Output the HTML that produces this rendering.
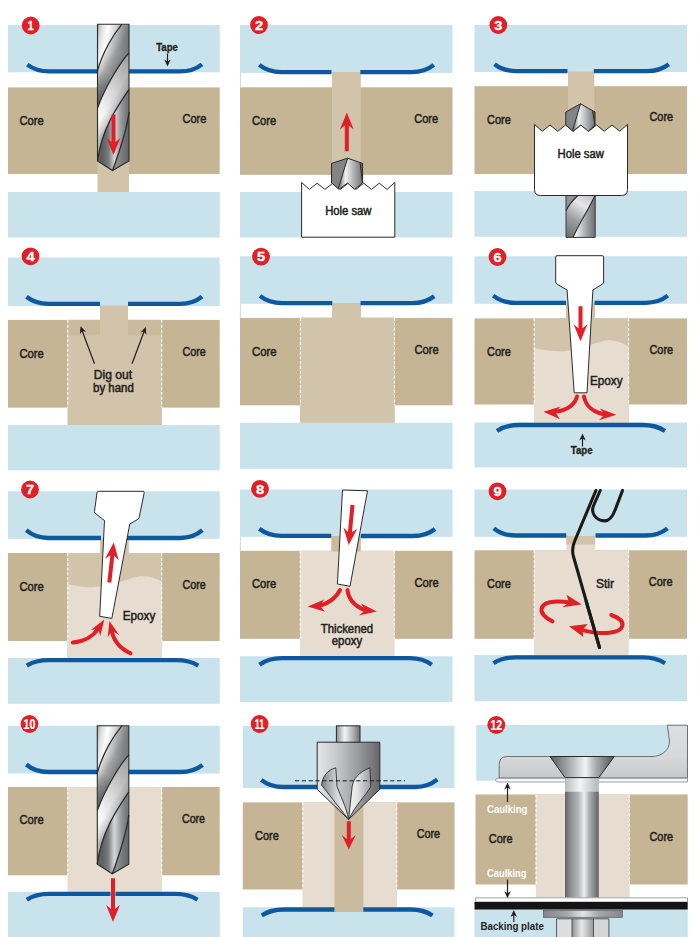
<!DOCTYPE html>
<html lang="en"><head><meta charset="utf-8"><title>Sealing deck core: 12 steps</title>
<style>html,body{margin:0;padding:0;background:#fff}svg{display:block;font-family:"Liberation Sans", sans-serif}</style></head>
<body><svg width="700" height="937" viewBox="0 0 700 937">
<rect width="700" height="937" fill="#fff"/>
<defs>
<linearGradient id="gDrill" x1="0" x2="1" y1="0" y2="0">
<stop offset="0" stop-color="#8d8e90"/><stop offset="0.1" stop-color="#d4d5d6"/><stop offset="0.3" stop-color="#ffffff"/>
<stop offset="0.5" stop-color="#c4c5c7"/><stop offset="0.75" stop-color="#8b8c8e"/><stop offset="1" stop-color="#68696b"/>
</linearGradient>
<linearGradient id="gBand" gradientUnits="objectBoundingBox" x1="0.2" y1="0.1" x2="0.8" y2="0.7">
<stop offset="0" stop-color="#fff" stop-opacity="0.55"/><stop offset="0.45" stop-color="#fff" stop-opacity="0"/>
<stop offset="1" stop-color="#000" stop-opacity="0.28"/>
</linearGradient>
<linearGradient id="gB0" gradientUnits="userSpaceOnUse" x1="0" y1="0" x2="24" y2="4">
<stop offset="0" stop-color="#9fa0a2"/><stop offset="0.18" stop-color="#dcdcdd"/><stop offset="0.45" stop-color="#ffffff"/><stop offset="0.75" stop-color="#d6d7d8"/><stop offset="1" stop-color="#a6a7a9"/></linearGradient>
<linearGradient id="gB1" gradientUnits="userSpaceOnUse" x1="10" y1="21" x2="26" y2="30.2">
<stop offset="0" stop-color="#f6f6f6"/><stop offset="0.3" stop-color="#cdcdce"/><stop offset="0.6" stop-color="#a3a4a6"/><stop offset="1" stop-color="#88898b"/></linearGradient>
<linearGradient id="gB1o" gradientUnits="userSpaceOnUse" x1="29" y1="3" x2="1" y2="80">
<stop offset="0" stop-color="#000" stop-opacity="0.3"/><stop offset="0.35" stop-color="#000" stop-opacity="0.04"/><stop offset="0.6" stop-color="#000" stop-opacity="0"/><stop offset="1" stop-color="#000" stop-opacity="0.32"/></linearGradient>
<linearGradient id="gB2" gradientUnits="userSpaceOnUse" x1="16" y1="55" x2="32" y2="64.3">
<stop offset="0" stop-color="#ffffff"/><stop offset="0.5" stop-color="#f4f4f4"/><stop offset="0.85" stop-color="#d0d0d1"/><stop offset="1" stop-color="#b4b5b7"/></linearGradient>
<linearGradient id="gB2o" gradientUnits="userSpaceOnUse" x1="31" y1="35" x2="0" y2="130">
<stop offset="0" stop-color="#000" stop-opacity="0.36"/><stop offset="0.35" stop-color="#000" stop-opacity="0.14"/><stop offset="0.6" stop-color="#000" stop-opacity="0"/><stop offset="1" stop-color="#000" stop-opacity="0"/></linearGradient>
<linearGradient id="gB3" gradientUnits="userSpaceOnUse" x1="5" y1="0" x2="29" y2="0">
<stop offset="0" stop-color="#5f6062"/><stop offset="0.25" stop-color="#7a7b7d"/><stop offset="0.5" stop-color="#d6d7d8"/><stop offset="0.78" stop-color="#98999b"/><stop offset="1" stop-color="#77787a"/></linearGradient>
<linearGradient id="gB4" gradientUnits="userSpaceOnUse" x1="20" y1="0" x2="31.5" y2="0">
<stop offset="0" stop-color="#8a8b8d"/><stop offset="1" stop-color="#636466"/></linearGradient>
<linearGradient id="gP3m" gradientUnits="userSpaceOnUse" x1="566" y1="237" x2="592" y2="197">
<stop offset="0" stop-color="#6d6e70"/><stop offset="0.4" stop-color="#9d9ea0"/><stop offset="0.75" stop-color="#e6e6e7"/><stop offset="1" stop-color="#c4c5c7"/></linearGradient>
<linearGradient id="gP3r" gradientUnits="userSpaceOnUse" x1="576" y1="0" x2="595" y2="0">
<stop offset="0" stop-color="#f2f2f2"/><stop offset="0.5" stop-color="#a9aaac"/><stop offset="1" stop-color="#6e6f71"/></linearGradient>
<linearGradient id="gTip" x1="0" x2="1" y1="0" y2="0">
<stop offset="0" stop-color="#8a8b8d"/><stop offset="0.28" stop-color="#8a8b8d"/><stop offset="0.45" stop-color="#f0f0f0"/><stop offset="0.7" stop-color="#b4b5b7"/><stop offset="1" stop-color="#707173"/></linearGradient>
<linearGradient id="gWasher" x1="0" x2="1" y1="0" y2="0">
<stop offset="0" stop-color="#85878a"/><stop offset="0.3" stop-color="#a5a7aa"/><stop offset="0.5" stop-color="#e4e5e6"/><stop offset="0.7" stop-color="#a5a7aa"/><stop offset="1" stop-color="#85878a"/></linearGradient>
<linearGradient id="gNutM" x1="0" x2="1" y1="0" y2="0">
<stop offset="0" stop-color="#8f9194"/><stop offset="0.45" stop-color="#e9e9ea"/><stop offset="1" stop-color="#97999c"/></linearGradient>
<linearGradient id="gFlute2" x1="0" x2="1" y1="0" y2="0">
<stop offset="0" stop-color="#f8f8f8"/><stop offset="0.4" stop-color="#e2e2e3"/><stop offset="1" stop-color="#9c9d9f"/></linearGradient>
<linearGradient id="gFit" gradientUnits="userSpaceOnUse" x1="0" y1="725" x2="0" y2="778">
<stop offset="0" stop-color="#dcdee0"/><stop offset="0.6" stop-color="#d6d8da"/><stop offset="1" stop-color="#c6c8ca"/></linearGradient>
<clipPath id="cDrill"><path d="M0,0 L31.5,0 L31.5,136.8 L15,146.3 L0,136.8 Z"/></clipPath>
<linearGradient id="gShank" x1="0" x2="1" y1="0" y2="0">
<stop offset="0" stop-color="#8d8e90"/><stop offset="0.35" stop-color="#f4f4f4"/><stop offset="0.6" stop-color="#c4c5c7"/><stop offset="1" stop-color="#707173"/>
</linearGradient>
<linearGradient id="gBody" x1="0" x2="1" y1="0" y2="0">
<stop offset="0" stop-color="#e4e5e6"/><stop offset="0.3" stop-color="#c9cacc"/><stop offset="0.65" stop-color="#9a9b9d"/><stop offset="1" stop-color="#66676a"/>
</linearGradient>
<linearGradient id="gFlute" x1="0" x2="1" y1="0" y2="0">
<stop offset="0" stop-color="#808183"/><stop offset="0.6" stop-color="#d9dadb"/><stop offset="1" stop-color="#f5f5f5"/>
</linearGradient>
<linearGradient id="gScrew" x1="0" x2="1" y1="0" y2="0">
<stop offset="0" stop-color="#626467"/><stop offset="0.15" stop-color="#8a8c8f"/><stop offset="0.4" stop-color="#b4b6b8"/><stop offset="0.57" stop-color="#eeeeef"/><stop offset="0.7" stop-color="#b2b4b6"/><stop offset="0.86" stop-color="#86888b"/><stop offset="1" stop-color="#626467"/>
</linearGradient>
<linearGradient id="gScrewL" x1="0" x2="1" y1="0" y2="0">
<stop offset="0" stop-color="#b9bbbd"/><stop offset="0.45" stop-color="#f4f4f5"/><stop offset="1" stop-color="#b4b6b8"/>
</linearGradient>
<linearGradient id="gHead" x1="0" x2="1" y1="0" y2="0">
<stop offset="0" stop-color="#5a5b5e"/><stop offset="0.3" stop-color="#a9abad"/><stop offset="0.55" stop-color="#f2f2f3"/><stop offset="0.7" stop-color="#aeb0b2"/><stop offset="1" stop-color="#505154"/>
</linearGradient>
</defs>
<rect x="8.00" y="25.00" width="211.70" height="47.30" fill="#c9e3ed" />
<rect x="8.00" y="87.40" width="211.70" height="86.60" fill="#c5b594" />
<rect x="8.00" y="192.00" width="211.70" height="45.50" fill="#c9e3ed" />
<rect x="97.50" y="160.00" width="31.50" height="32.00" fill="#d2c4aa" />
<path d="M27.30,64.60 C33.30,69.22 40.30,71.40 49.30,71.40 L100.00,71.40" fill="none" stroke="#0e58a0" stroke-width="4.3"/>
<path d="M202.00,64.30 C196.00,69.13 189.00,71.40 180.00,71.40 L127.00,71.40" fill="none" stroke="#0e58a0" stroke-width="4.3"/>
<g transform="translate(97.50,24.20) scale(1,1.0000)">
<g clip-path="url(#cDrill)">
<path d="M0,0 L24.5,0 C16,10 5,28 0,46.8 Z" fill="url(#gB0)"/>
<path d="M24.5,0 C16,10 5,28 0,46.8 L0,83.8 C8,62 24,36 31.5,28.8 L31.5,0 Z" fill="url(#gB1)"/>
<path d="M24.5,0 C16,10 5,28 0,46.8 L0,83.8 C8,62 24,36 31.5,28.8 L31.5,0 Z" fill="url(#gB1o)"/>
<path d="M31.5,28.8 C24,36 8,62 0,83.8 L0,136.8 C4,105 20,82 31.5,65.3 Z" fill="url(#gB2)"/>
<path d="M31.5,28.8 C24,36 8,62 0,83.8 L0,136.8 C4,105 20,82 31.5,65.3 Z" fill="url(#gB2o)"/>
<path d="M31.5,65.3 C20,82 4,105 0,136.8 L15,146.3 C24,122 30,100 31.5,88 Z" fill="url(#gB3)"/>
<path d="M31.5,88 C30,100 24,122 15,146.3 L31.5,136.8 Z" fill="url(#gB4)"/>
</g>
<path d="M24.5,0 C16,10 5,28 0,46.8" fill="none" stroke="#2b2b2b" stroke-width="1.25"/>
<path d="M31.5,28.8 C24,36 8,62 0,83.8" fill="none" stroke="#2b2b2b" stroke-width="1.25"/>
<path d="M31.5,65.3 C20,82 4,105 0,136.8" fill="none" stroke="#2b2b2b" stroke-width="1.25"/>
<path d="M31.5,88 C30,100 24,122 15,146.3" fill="none" stroke="#2b2b2b" stroke-width="1.25"/>
<path d="M0,0 L31.5,0 L31.5,136.8 L15,146.3 L0,136.8 Z" fill="none" stroke="#2b2b2b" stroke-width="1.1"/>
</g>
<path d="M111.50,114.50 L115.50,114.50 L115.50,142.00 L120.40,138.00 L113.50,155.00 L106.60,138.00 L111.50,142.00 Z" fill="#e11f26"/>
<circle cx="30.70" cy="25.50" r="8.9" fill="#e11f26"/>
<text x="27.60" y="30.20" font-size="13.5" font-weight="bold" fill="#fff" stroke="#fff" stroke-width="0.3" textLength="6.2" lengthAdjust="spacingAndGlyphs">1</text>
<text x="19.50" y="125.00" font-size="12" font-weight="normal" fill="#231f20" text-anchor="start" textLength="24.20" lengthAdjust="spacingAndGlyphs" stroke="#231f20" stroke-width="0.5">Core</text>
<text x="182.50" y="122.50" font-size="12" font-weight="normal" fill="#231f20" text-anchor="start" textLength="23.80" lengthAdjust="spacingAndGlyphs" stroke="#231f20" stroke-width="0.5">Core</text>
<text x="156.20" y="50.80" font-size="10" font-weight="bold" fill="#231f20" text-anchor="start" textLength="21.80" lengthAdjust="spacingAndGlyphs" stroke="#231f20" stroke-width="0.3">Tape</text>
<line x1="167.50" y1="53.50" x2="167.50" y2="62.00" stroke="#231f20" stroke-width="1.2"/>
<path d="M167.50,66.50 L164.30,59.50 L167.50,61.50 L170.70,59.50 Z" fill="#231f20"/>
<rect x="240.00" y="25.00" width="212.50" height="48.00" fill="#c9e3ed" />
<rect x="240.00" y="87.30" width="212.50" height="87.50" fill="#c5b594" />
<rect x="240.00" y="192.00" width="212.50" height="45.50" fill="#c9e3ed" />
<rect x="332.00" y="72.00" width="28.80" height="103.00" fill="#d2c4aa" />
<path d="M259.30,64.90 C265.30,69.80 272.30,72.10 281.30,72.10 L331.50,72.10" fill="none" stroke="#0e58a0" stroke-width="4.3"/>
<path d="M433.80,64.90 C427.80,69.80 420.80,72.10 411.80,72.10 L360.30,72.10" fill="none" stroke="#0e58a0" stroke-width="4.3"/>
<path d="M344.80,151.30 L348.80,151.30 L348.80,125.50 L353.70,129.50 L346.80,112.50 L339.90,129.50 L344.80,125.50 Z" fill="#e11f26"/>
<path d="M301.6,237.2 L301.6,182.5 L309.37,189.4 L317.13,183.2 L324.90,189.4 L332.67,183.2 L340.43,189.4 L348.20,183.2 L355.97,189.4 L363.73,183.2 L371.50,189.4 L379.27,183.2 L387.03,189.4 L394.80,182.5 L394.8,237.2 Z" fill="#fff" stroke="#2b2b2b" stroke-width="1" stroke-linejoin="miter"/>
<path d="M331.5,183 L331.5,163.4 L347.6,158.2 L362.6,163.4 L362.6,183 L354.7,189.3 L347.6,183 L339,189.3 Z" fill="url(#gTip)"/>
<path d="M331.5,183 L331.5,163.4 L347.6,158.2 L338.3,188.5 Z" fill="#838486"/>
<path d="M360,162.6 L362.6,163.4 L362.6,183 Z" fill="#66676a"/>
<path d="M331.5,183 L331.5,163.4 L347.6,158.2 L362.6,163.4 L362.6,183 L354.7,189.3 L347.6,183 L339,189.3 Z M347.6,158.2 L338.3,188.5 M360,162.6 L362.6,183" fill="none" stroke="#2b2b2b" stroke-width="1"/>
<text x="325.20" y="214.80" font-size="12" font-weight="normal" fill="#231f20" text-anchor="start" textLength="46.30" lengthAdjust="spacingAndGlyphs" stroke="#231f20" stroke-width="0.5">Hole saw</text>
<circle cx="259.00" cy="25.00" r="8.9" fill="#e11f26"/>
<text x="254.90" y="29.70" font-size="13.5" font-weight="bold" fill="#fff" stroke="#fff" stroke-width="0.3" textLength="8.2" lengthAdjust="spacingAndGlyphs">2</text>
<text x="252.00" y="125.00" font-size="12" font-weight="normal" fill="#231f20" text-anchor="start" textLength="24.20" lengthAdjust="spacingAndGlyphs" stroke="#231f20" stroke-width="0.5">Core</text>
<text x="414.30" y="122.50" font-size="12" font-weight="normal" fill="#231f20" text-anchor="start" textLength="23.80" lengthAdjust="spacingAndGlyphs" stroke="#231f20" stroke-width="0.5">Core</text>
<path d="M240.4,72.5 L240.4,87.3 M240.4,303.8 L240.4,317.6 M240.4,536.8 L240.4,550.8" stroke="#d8d1c6" stroke-width="0.9" fill="none"/>
<rect x="474.50" y="25.00" width="212.50" height="47.00" fill="#c9e3ed" />
<rect x="474.50" y="86.20" width="212.50" height="87.80" fill="#c5b594" />
<rect x="474.50" y="191.00" width="212.50" height="45.80" fill="#c9e3ed" />
<rect x="568.00" y="71.50" width="26.30" height="53.50" fill="#d2c4aa" />
<path d="M494.50,64.20 C500.50,68.89 507.50,71.10 516.50,71.10 L567.50,71.10" fill="none" stroke="#0e58a0" stroke-width="4.3"/>
<path d="M668.80,64.20 C662.80,68.89 655.80,71.10 646.80,71.10 L593.80,71.10" fill="none" stroke="#0e58a0" stroke-width="4.3"/>
<path d="M566,190 L578.4,190 L578.4,195 C573,200 568,206 566,211 Z" fill="#929395"/>
<path d="M578.4,190 L595.2,190 L595.2,195 C590,207 580,222 573,237.4 L566,237.4 L566,211 C568,206 573,200 578.4,195 Z" fill="url(#gP3m)"/>
<path d="M595.2,195 C590,207 580,222 573,237.4 L595.2,237.4 Z" fill="url(#gP3r)"/>
<path d="M578.4,195 C573,200 568,206 566,211 M595.2,195 C590,207 580,222 573,237.4" fill="none" stroke="#2b2b2b" stroke-width="1.1"/>
<path d="M566,190 L566,237.4 L595.2,237.4 L595.2,190" fill="none" stroke="#3a3a3a" stroke-width="1"/>
<path d="M534.5,189.5 L534.5,124.3 L542.25,131.3 L550.00,125 L557.75,131.3 L565.50,125 L573.25,131.3 L581.00,125 L588.75,131.3 L596.50,125 L604.25,131.3 L612.00,125 L619.75,131.3 L627.50,124.3 L627.5,189.5 Q627.5,195.5 621.5,195.5 L540.5,195.5 Q534.5,195.5 534.5,189.5 Z" fill="#fff" stroke="#2b2b2b" stroke-width="1"/>
<path d="M565.8,125 L565.8,112 L580.5,103.8 L595,112 L595,125 L588.3,131.3 L580.8,125 L573,131.3 Z" fill="url(#gTip)"/>
<path d="M565.8,125 L565.8,112 L580.5,103.8 L572.5,130.8 Z" fill="#838486"/>
<path d="M592.5,110.6 L595,112 L595,125 Z" fill="#66676a"/>
<path d="M565.8,125 L565.8,112 L580.5,103.8 L595,112 L595,125 L588.3,131.3 L580.8,125 L573,131.3 Z M580.5,103.8 L572.5,130.8 M592.5,110.6 L595,125" fill="none" stroke="#2b2b2b" stroke-width="1"/>
<text x="557.50" y="158.00" font-size="12" font-weight="normal" fill="#231f20" text-anchor="start" textLength="46.30" lengthAdjust="spacingAndGlyphs" stroke="#231f20" stroke-width="0.5">Hole saw</text>
<circle cx="498.30" cy="25.00" r="8.9" fill="#e11f26"/>
<text x="494.20" y="29.70" font-size="13.5" font-weight="bold" fill="#fff" stroke="#fff" stroke-width="0.3" textLength="8.2" lengthAdjust="spacingAndGlyphs">3</text>
<text x="487.00" y="123.80" font-size="12" font-weight="normal" fill="#231f20" text-anchor="start" textLength="23.80" lengthAdjust="spacingAndGlyphs" stroke="#231f20" stroke-width="0.5">Core</text>
<text x="649.50" y="121.30" font-size="12" font-weight="normal" fill="#231f20" text-anchor="start" textLength="23.60" lengthAdjust="spacingAndGlyphs" stroke="#231f20" stroke-width="0.5">Core</text>
<rect x="8.00" y="257.50" width="211.70" height="48.50" fill="#c9e3ed" />
<rect x="8.00" y="319.90" width="211.70" height="87.70" fill="#c5b594" />
<rect x="8.00" y="425.00" width="211.70" height="45.30" fill="#c9e3ed" />
<rect x="67.50" y="319.90" width="94.50" height="105.10" fill="#d2c4aa" />
<rect x="67.50" y="319.90" width="32.50" height="15.60" fill="#cbbb9e" />
<rect x="128.00" y="319.90" width="34.00" height="15.60" fill="#cbbb9e" />
<rect x="100.00" y="305.50" width="28.00" height="30.50" fill="#d2c4aa" />
<line x1="67.80" y1="319.90" x2="67.80" y2="407.60" stroke="#fff" stroke-width="1" stroke-dasharray="3.2 1.6"/>
<line x1="161.70" y1="319.90" x2="161.70" y2="407.60" stroke="#fff" stroke-width="1" stroke-dasharray="3.2 1.6"/>
<path d="M26.50,296.80 C32.50,301.56 39.50,303.80 48.50,303.80 L100.00,303.80" fill="none" stroke="#0e58a0" stroke-width="4.3"/>
<path d="M202.00,296.60 C196.00,301.50 189.00,303.80 180.00,303.80 L128.00,303.80" fill="none" stroke="#0e58a0" stroke-width="4.3"/>
<line x1="94.50" y1="363.80" x2="82.07" y2="330.52" stroke="#231f20" stroke-width="1.2"/>
<path d="M80.50,326.30 L85.95,331.74 L82.25,330.98 L79.95,333.98 Z" fill="#231f20"/>
<line x1="132.00" y1="363.80" x2="144.22" y2="331.21" stroke="#231f20" stroke-width="1.2"/>
<path d="M145.80,327.00 L146.34,334.68 L144.04,331.68 L140.35,332.43 Z" fill="#231f20"/>
<text x="93.80" y="379.30" font-size="12" font-weight="normal" fill="#231f20" text-anchor="start" textLength="38.20" lengthAdjust="spacingAndGlyphs" stroke="#231f20" stroke-width="0.5">Dig out</text>
<text x="93.00" y="392.00" font-size="12" font-weight="normal" fill="#231f20" text-anchor="start" textLength="40.80" lengthAdjust="spacingAndGlyphs" stroke="#231f20" stroke-width="0.5">by hand</text>
<circle cx="30.50" cy="256.30" r="8.9" fill="#e11f26"/>
<text x="26.40" y="261.00" font-size="13.5" font-weight="bold" fill="#fff" stroke="#fff" stroke-width="0.3" textLength="8.2" lengthAdjust="spacingAndGlyphs">4</text>
<text x="19.50" y="357.50" font-size="12" font-weight="normal" fill="#231f20" text-anchor="start" textLength="24.20" lengthAdjust="spacingAndGlyphs" stroke="#231f20" stroke-width="0.5">Core</text>
<text x="182.50" y="355.50" font-size="12" font-weight="normal" fill="#231f20" text-anchor="start" textLength="23.30" lengthAdjust="spacingAndGlyphs" stroke="#231f20" stroke-width="0.5">Core</text>
<rect x="240.00" y="256.30" width="212.50" height="47.50" fill="#c9e3ed" />
<rect x="240.00" y="317.90" width="212.50" height="87.40" fill="#c5b594" />
<rect x="240.00" y="422.80" width="212.50" height="46.00" fill="#c9e3ed" />
<rect x="300.00" y="317.60" width="94.80" height="105.20" fill="#d2c4aa" />
<rect x="332.00" y="303.00" width="29.00" height="15.50" fill="#d2c4aa" />
<line x1="300.40" y1="317.90" x2="300.40" y2="405.30" stroke="#fff" stroke-width="1" stroke-dasharray="3.2 1.6"/>
<line x1="394.40" y1="317.90" x2="394.40" y2="405.30" stroke="#fff" stroke-width="1" stroke-dasharray="3.2 1.6"/>
<path d="M260.00,295.90 C266.00,300.80 273.00,303.10 282.00,303.10 L332.30,303.10" fill="none" stroke="#0e58a0" stroke-width="4.3"/>
<path d="M434.20,296.20 C428.20,300.89 421.20,303.10 412.20,303.10 L360.50,303.10" fill="none" stroke="#0e58a0" stroke-width="4.3"/>
<circle cx="261.00" cy="256.60" r="8.9" fill="#e11f26"/>
<text x="256.90" y="261.30" font-size="13.5" font-weight="bold" fill="#fff" stroke="#fff" stroke-width="0.3" textLength="8.2" lengthAdjust="spacingAndGlyphs">5</text>
<text x="252.00" y="355.50" font-size="12" font-weight="normal" fill="#231f20" text-anchor="start" textLength="24.70" lengthAdjust="spacingAndGlyphs" stroke="#231f20" stroke-width="0.5">Core</text>
<text x="414.50" y="353.80" font-size="12" font-weight="normal" fill="#231f20" text-anchor="start" textLength="24.20" lengthAdjust="spacingAndGlyphs" stroke="#231f20" stroke-width="0.5">Core</text>
<rect x="474.50" y="256.30" width="212.50" height="47.50" fill="#c9e3ed" />
<rect x="474.50" y="318.40" width="212.50" height="86.10" fill="#c5b594" />
<rect x="474.50" y="422.50" width="212.50" height="45.00" fill="#c9e3ed" />
<rect x="534.00" y="318.40" width="94.80" height="104.10" fill="#d2c4aa" />
<rect x="565.80" y="303.00" width="29.20" height="16.00" fill="#d2c4aa" />
<path d="M534,348 C545,350.5 556,352 566,351 C580,349 592,344 603,341 C612,338.8 620,341 628.8,346.5 L628.8,422.5 L534,422.5 Z" fill="#e6ddd0"/>
<line x1="534.20" y1="318.40" x2="534.20" y2="404.50" stroke="#fff" stroke-width="1" stroke-dasharray="3.2 1.6"/>
<line x1="628.60" y1="318.40" x2="628.60" y2="404.50" stroke="#fff" stroke-width="1" stroke-dasharray="3.2 1.6"/>
<path d="M493.20,295.70 C499.20,300.53 506.20,302.80 515.20,302.80 L566.00,302.80" fill="none" stroke="#0e58a0" stroke-width="4.3"/>
<path d="M667.80,295.70 C661.80,300.53 654.80,302.80 645.80,302.80 L594.50,302.80" fill="none" stroke="#0e58a0" stroke-width="4.3"/>
<path d="M497.00,431.00 C503.00,426.92 510.00,425.00 519.00,425.00 L643.00,425.00 C652.00,425.00 659.00,426.92 665.00,431.00" fill="none" stroke="#0e58a0" stroke-width="4.3"/>
<path d="M557,255.7 L602.3,255.7 Q603.6,255.7 603.6,257 L603.6,282 Q603.6,283.6 602,284.3 L592.9,290 L587,392.8 L574.2,392.8 L567.1,290 L557.3,284.3 Q555.7,283.6 555.7,282 L555.7,257 Q555.7,255.7 557,255.7 Z" fill="#fff" stroke="#2b2b2b" stroke-width="1" stroke-linejoin="round"/>
<path d="M578.50,306.30 L582.50,306.30 L582.50,328.30 L587.40,324.30 L580.50,341.30 L573.60,324.30 L578.50,328.30 Z" fill="#e11f26"/>
<path d="M577,396.5 C575,404.5 567,410.5 556,411.6" fill="none" stroke="#e11f26" stroke-width="4" stroke-linecap="round"/>
<path d="M543.5,411.8 L560.8,406.6 L555,411.8 L560,419.3 Z" fill="#e11f26"/>
<path d="M584,396.5 C585.5,405.5 593,412 604,414.2" fill="none" stroke="#e11f26" stroke-width="4" stroke-linecap="round"/>
<path d="M616.3,414.8 L599.8,408.6 L604.8,414.3 L599,420.2 Z" fill="#e11f26"/>
<text x="590.00" y="385.00" font-size="12" font-weight="normal" fill="#231f20" text-anchor="start" textLength="32.50" lengthAdjust="spacingAndGlyphs" stroke="#231f20" stroke-width="0.5">Epoxy</text>
<text x="570.80" y="454.30" font-size="10" font-weight="bold" fill="#231f20" text-anchor="start" textLength="21.80" lengthAdjust="spacingAndGlyphs" stroke="#231f20" stroke-width="0.3">Tape</text>
<line x1="582.50" y1="446.50" x2="582.50" y2="438.00" stroke="#231f20" stroke-width="1.2"/>
<path d="M582.50,433.50 L585.70,440.50 L582.50,438.50 L579.30,440.50 Z" fill="#231f20"/>
<circle cx="497.50" cy="257.00" r="8.9" fill="#e11f26"/>
<text x="493.40" y="261.70" font-size="13.5" font-weight="bold" fill="#fff" stroke="#fff" stroke-width="0.3" textLength="8.2" lengthAdjust="spacingAndGlyphs">6</text>
<text x="487.00" y="355.50" font-size="12" font-weight="normal" fill="#231f20" text-anchor="start" textLength="23.80" lengthAdjust="spacingAndGlyphs" stroke="#231f20" stroke-width="0.5">Core</text>
<text x="649.50" y="353.80" font-size="12" font-weight="normal" fill="#231f20" text-anchor="start" textLength="23.60" lengthAdjust="spacingAndGlyphs" stroke="#231f20" stroke-width="0.5">Core</text>
<rect x="8.00" y="491.30" width="211.70" height="47.50" fill="#c9e3ed" />
<rect x="8.00" y="553.00" width="211.70" height="88.00" fill="#c5b594" />
<rect x="8.00" y="658.00" width="211.70" height="45.80" fill="#c9e3ed" />
<rect x="67.50" y="553.00" width="94.50" height="105.00" fill="#d2c4aa" />
<rect x="100.00" y="538.00" width="28.80" height="16.00" fill="#d2c4aa" />
<path d="M67.5,584.3 C76,586 84,587.6 92,587.2 C106,586 120,582.5 132,578 C142,574.8 152,576 162,581.5 L162,658 L67.5,658 Z" fill="#e6ddd0"/>
<line x1="67.80" y1="553.00" x2="67.80" y2="641.00" stroke="#fff" stroke-width="1" stroke-dasharray="3.2 1.6"/>
<line x1="161.70" y1="553.00" x2="161.70" y2="641.00" stroke="#fff" stroke-width="1" stroke-dasharray="3.2 1.6"/>
<path d="M26.30,530.20 C32.30,535.50 39.30,538.00 48.30,538.00 L101.00,538.00" fill="none" stroke="#0e58a0" stroke-width="4.3"/>
<path d="M202.30,530.20 C196.30,535.50 189.30,538.00 180.30,538.00 L127.00,538.00" fill="none" stroke="#0e58a0" stroke-width="4.3"/>
<path d="M26.80,665.60 C32.80,661.93 39.80,660.20 48.80,660.20 L176.20,660.20 C185.20,660.20 192.20,661.93 198.20,665.60" fill="none" stroke="#0e58a0" stroke-width="4.3"/>
<path d="M98.3,491.3 L143,491.3 Q144.3,491.3 144.2,492.6 L139.2,517.5 Q139,518.8 137.5,519.5 L129.8,524 L111.8,618.5 L99.7,616.3 L104.5,520.5 L95.8,513.8 Q94.3,512.8 94.5,511.3 L97,492.6 Q97.1,491.3 98.3,491.3 Z" fill="#fff" stroke="#2b2b2b" stroke-width="1" stroke-linejoin="round"/>
<g transform="rotate(6.4 109.3 582.5)">
<path d="M107.30,582.50 L111.30,582.50 L111.30,555.30 L116.20,559.30 L109.30,542.30 L102.40,559.30 L107.30,555.30 Z" fill="#e11f26"/>
</g>
<path d="M72.8,642.5 C84,641.5 93.5,636 98.3,628.5" fill="none" stroke="#e11f26" stroke-width="4" stroke-linecap="round"/>
<path d="M104.3,619.5 L90.8,630 L98.3,628.7 L100.2,636.2 Z" fill="#e11f26"/>
<path d="M130.5,653.3 C120.5,648.5 113.5,640.5 111.8,630.8" fill="none" stroke="#e11f26" stroke-width="4" stroke-linecap="round"/>
<path d="M109.5,621 L107.6,637.5 L111.8,630.6 L119.3,635.3 Z" fill="#e11f26"/>
<text x="122.80" y="620.00" font-size="12" font-weight="normal" fill="#231f20" text-anchor="start" textLength="32.50" lengthAdjust="spacingAndGlyphs" stroke="#231f20" stroke-width="0.5">Epoxy</text>
<circle cx="30.00" cy="489.50" r="8.9" fill="#e11f26"/>
<text x="25.90" y="494.20" font-size="13.5" font-weight="bold" fill="#fff" stroke="#fff" stroke-width="0.3" textLength="8.2" lengthAdjust="spacingAndGlyphs">7</text>
<text x="19.50" y="590.50" font-size="12" font-weight="normal" fill="#231f20" text-anchor="start" textLength="24.20" lengthAdjust="spacingAndGlyphs" stroke="#231f20" stroke-width="0.5">Core</text>
<text x="182.50" y="588.80" font-size="12" font-weight="normal" fill="#231f20" text-anchor="start" textLength="23.30" lengthAdjust="spacingAndGlyphs" stroke="#231f20" stroke-width="0.5">Core</text>
<rect x="240.00" y="489.50" width="212.50" height="47.30" fill="#c9e3ed" />
<rect x="240.00" y="550.80" width="212.50" height="88.00" fill="#c5b594" />
<rect x="240.00" y="656.30" width="212.50" height="45.70" fill="#c9e3ed" />
<rect x="300.00" y="550.80" width="94.60" height="105.50" fill="#e6ddd0" />
<rect x="331.30" y="536.00" width="29.50" height="15.50" fill="#cbbb9e" />
<line x1="300.30" y1="550.80" x2="300.30" y2="638.80" stroke="#fff" stroke-width="1" stroke-dasharray="3.2 1.6"/>
<line x1="394.30" y1="550.80" x2="394.30" y2="638.80" stroke="#fff" stroke-width="1" stroke-dasharray="3.2 1.6"/>
<path d="M259.30,528.80 C265.30,533.56 272.30,535.80 281.30,535.80 L331.30,535.80" fill="none" stroke="#0e58a0" stroke-width="4.3"/>
<path d="M435.00,529.00 C429.00,533.76 422.00,536.00 413.00,536.00 L360.80,536.00" fill="none" stroke="#0e58a0" stroke-width="4.3"/>
<path d="M259.50,664.80 C265.50,660.31 272.50,658.20 281.50,658.20 L409.80,658.20 C418.80,658.20 425.80,660.31 431.80,664.80" fill="none" stroke="#0e58a0" stroke-width="4.3"/>
<path d="M342.5,490 L367.5,490.8 L350,586.3 L337.4,584 Z" fill="#fff" stroke="#2b2b2b" stroke-width="1" stroke-linejoin="round"/>
<g transform="rotate(5.4 352.5 505)">
<path d="M350.50,505.00 L354.50,505.00 L354.50,532.20 L359.40,528.20 L352.50,545.20 L345.60,528.20 L350.50,532.20 Z" fill="#e11f26"/>
</g>
<path d="M340,590 C336.5,597 329.5,602.5 321,605.3" fill="none" stroke="#e11f26" stroke-width="4" stroke-linecap="round"/>
<path d="M307.8,606.5 L324.3,599.6 L319.8,605.8 L325,611.8 Z" fill="#e11f26"/>
<path d="M347.5,590 C348.5,599 355,606 364,609.8" fill="none" stroke="#e11f26" stroke-width="4" stroke-linecap="round"/>
<path d="M376.8,611.5 L361,603.4 L365.5,610.2 L358.8,615.5 Z" fill="#e11f26"/>
<text x="320.80" y="633.00" font-size="12" font-weight="normal" fill="#231f20" text-anchor="start" textLength="52.30" lengthAdjust="spacingAndGlyphs" stroke="#231f20" stroke-width="0.5">Thickened</text>
<text x="331.80" y="645.00" font-size="12" font-weight="normal" fill="#231f20" text-anchor="start" textLength="30.30" lengthAdjust="spacingAndGlyphs" stroke="#231f20" stroke-width="0.5">epoxy</text>
<circle cx="260.00" cy="488.80" r="8.9" fill="#e11f26"/>
<text x="255.90" y="493.50" font-size="13.5" font-weight="bold" fill="#fff" stroke="#fff" stroke-width="0.3" textLength="8.2" lengthAdjust="spacingAndGlyphs">8</text>
<text x="252.00" y="588.30" font-size="12" font-weight="normal" fill="#231f20" text-anchor="start" textLength="24.30" lengthAdjust="spacingAndGlyphs" stroke="#231f20" stroke-width="0.5">Core</text>
<text x="414.50" y="586.80" font-size="12" font-weight="normal" fill="#231f20" text-anchor="start" textLength="24.20" lengthAdjust="spacingAndGlyphs" stroke="#231f20" stroke-width="0.5">Core</text>
<rect x="474.50" y="489.50" width="212.50" height="47.30" fill="#c9e3ed" />
<rect x="474.50" y="550.30" width="212.50" height="88.50" fill="#c5b594" />
<rect x="474.50" y="655.00" width="212.50" height="46.20" fill="#c9e3ed" />
<rect x="534.00" y="550.30" width="94.80" height="104.70" fill="#e6ddd0" />
<rect x="566.30" y="536.00" width="28.90" height="9.00" fill="#d2c4aa" />
<rect x="566.30" y="544.50" width="28.90" height="6.50" fill="#e6ddd0" />
<line x1="534.20" y1="550.30" x2="534.20" y2="638.80" stroke="#fff" stroke-width="1" stroke-dasharray="3.2 1.6"/>
<line x1="628.60" y1="550.30" x2="628.60" y2="638.80" stroke="#fff" stroke-width="1" stroke-dasharray="3.2 1.6"/>
<path d="M493.80,528.30 C499.80,533.20 506.80,535.50 515.80,535.50 L566.30,535.50" fill="none" stroke="#0e58a0" stroke-width="4.3"/>
<path d="M667.50,528.30 C661.50,533.20 654.50,535.50 645.50,535.50 L595.50,535.50" fill="none" stroke="#0e58a0" stroke-width="4.3"/>
<path d="M493.50,663.30 C499.50,659.29 506.50,657.40 515.50,657.40 L643.00,657.40 C652.00,657.40 659.00,659.29 665.00,663.30" fill="none" stroke="#0e58a0" stroke-width="4.3"/>
<path d="M595.9,490.5 L574.5,541.5 Q571.3,549.5 573.6,557 L599.5,647.5" fill="none" stroke="#1a1a1a" stroke-width="3.1" stroke-linecap="round" stroke-linejoin="round"/>
<path d="M600.2,490.5 L593.6,505.5 C590.3,513 596,520.6 604.5,520.9 C610.5,521 613.3,515 615.3,509.5 L622.5,490.5" fill="none" stroke="#1a1a1a" stroke-width="3.1" stroke-linecap="round"/>
<path d="M552.5,621.3 C545,618 540.8,613 541.5,609 C542.8,602.5 553,599.8 570,602.5" fill="none" stroke="#e11f26" stroke-width="4" stroke-linecap="round"/>
<path d="M581.8,604.5 L566.5,594.8 L569,602.6 L562.3,607.2 Z" fill="#e11f26"/>
<path d="M611.3,615 C619.5,618 623.5,622 622.3,626 C620.5,633 603,635.8 582,629.8" fill="none" stroke="#e11f26" stroke-width="4" stroke-linecap="round"/>
<path d="M569,626.2 L587.8,624 L582.5,629.8 L583.3,637 Z" fill="#e11f26"/>
<path d="M586,600.8 L599.5,647.5" fill="none" stroke="#1a1a1a" stroke-width="3.1" stroke-linecap="round"/>
<text x="596.00" y="588.00" font-size="12" font-weight="normal" fill="#231f20" text-anchor="start" textLength="18.00" lengthAdjust="spacingAndGlyphs" stroke="#231f20" stroke-width="0.5">Stir</text>
<circle cx="497.50" cy="491.30" r="8.9" fill="#e11f26"/>
<text x="493.40" y="496.00" font-size="13.5" font-weight="bold" fill="#fff" stroke="#fff" stroke-width="0.3" textLength="8.2" lengthAdjust="spacingAndGlyphs">9</text>
<text x="487.00" y="587.50" font-size="12" font-weight="normal" fill="#231f20" text-anchor="start" textLength="23.80" lengthAdjust="spacingAndGlyphs" stroke="#231f20" stroke-width="0.5">Core</text>
<text x="648.80" y="585.80" font-size="12" font-weight="normal" fill="#231f20" text-anchor="start" textLength="23.70" lengthAdjust="spacingAndGlyphs" stroke="#231f20" stroke-width="0.5">Core</text>
<rect x="8.00" y="725.80" width="211.70" height="47.70" fill="#c9e3ed" />
<rect x="8.00" y="787.00" width="211.70" height="88.30" fill="#c5b594" />
<rect x="8.00" y="891.90" width="211.70" height="45.10" fill="#c9e3ed" />
<rect x="67.50" y="787.00" width="94.50" height="104.90" fill="#e6ddd0" />
<line x1="67.80" y1="787.00" x2="67.80" y2="875.30" stroke="#fff" stroke-width="1" stroke-dasharray="3.2 1.6"/>
<line x1="161.70" y1="787.00" x2="161.70" y2="875.30" stroke="#fff" stroke-width="1" stroke-dasharray="3.2 1.6"/>
<path d="M26.30,764.50 C32.30,769.60 39.30,772.00 48.30,772.00 L100.00,772.00" fill="none" stroke="#0e58a0" stroke-width="4.3"/>
<path d="M202.50,765.00 C196.50,769.76 189.50,772.00 180.50,772.00 L127.00,772.00" fill="none" stroke="#0e58a0" stroke-width="4.3"/>
<path d="M26.80,899.80 C32.80,895.79 39.80,893.90 48.80,893.90 L110.50,893.90 M115.50,893.90 L175.50,893.90 C184.50,893.90 191.50,895.79 197.50,899.80" fill="none" stroke="#0e58a0" stroke-width="4.3"/>
<g transform="translate(97.30,725.80) scale(1,1.0116)">
<g clip-path="url(#cDrill)">
<path d="M0,0 L24.5,0 C16,10 5,28 0,46.8 Z" fill="url(#gB0)"/>
<path d="M24.5,0 C16,10 5,28 0,46.8 L0,83.8 C8,62 24,36 31.5,28.8 L31.5,0 Z" fill="url(#gB1)"/>
<path d="M24.5,0 C16,10 5,28 0,46.8 L0,83.8 C8,62 24,36 31.5,28.8 L31.5,0 Z" fill="url(#gB1o)"/>
<path d="M31.5,28.8 C24,36 8,62 0,83.8 L0,136.8 C4,105 20,82 31.5,65.3 Z" fill="url(#gB2)"/>
<path d="M31.5,28.8 C24,36 8,62 0,83.8 L0,136.8 C4,105 20,82 31.5,65.3 Z" fill="url(#gB2o)"/>
<path d="M31.5,65.3 C20,82 4,105 0,136.8 L15,146.3 C24,122 30,100 31.5,88 Z" fill="url(#gB3)"/>
<path d="M31.5,88 C30,100 24,122 15,146.3 L31.5,136.8 Z" fill="url(#gB4)"/>
</g>
<path d="M24.5,0 C16,10 5,28 0,46.8" fill="none" stroke="#2b2b2b" stroke-width="1.25"/>
<path d="M31.5,28.8 C24,36 8,62 0,83.8" fill="none" stroke="#2b2b2b" stroke-width="1.25"/>
<path d="M31.5,65.3 C20,82 4,105 0,136.8" fill="none" stroke="#2b2b2b" stroke-width="1.25"/>
<path d="M31.5,88 C30,100 24,122 15,146.3" fill="none" stroke="#2b2b2b" stroke-width="1.25"/>
<path d="M0,0 L31.5,0 L31.5,136.8 L15,146.3 L0,136.8 Z" fill="none" stroke="#2b2b2b" stroke-width="1.1"/>
</g>
<path d="M0,0" />
<path d="M111.00,878.30 L115.00,878.30 L115.00,909.00 L119.90,905.00 L113.00,922.00 L106.10,905.00 L111.00,909.00 Z" fill="#e11f26"/>
<circle cx="29.50" cy="724.00" r="8.9" fill="#e11f26"/>
<text x="23.60" y="729.00" font-size="14" font-weight="bold" fill="#fff" stroke="#fff" stroke-width="0.2" textLength="11.8" lengthAdjust="spacingAndGlyphs">10</text>
<text x="19.50" y="824.30" font-size="12" font-weight="normal" fill="#231f20" text-anchor="start" textLength="24.20" lengthAdjust="spacingAndGlyphs" stroke="#231f20" stroke-width="0.5">Core</text>
<text x="182.00" y="822.80" font-size="12" font-weight="normal" fill="#231f20" text-anchor="start" textLength="23.00" lengthAdjust="spacingAndGlyphs" stroke="#231f20" stroke-width="0.5">Core</text>
<rect x="242.80" y="725.80" width="211.70" height="62.20" fill="#c9e3ed" />
<rect x="242.80" y="802.40" width="211.70" height="87.10" fill="#c5b594" />
<rect x="242.80" y="907.30" width="211.70" height="29.70" fill="#c9e3ed" />
<rect x="302.50" y="802.40" width="94.50" height="104.90" fill="#e6ddd0" />
<rect x="334.50" y="802.40" width="28.80" height="109.60" fill="#cbbb9e" />
<line x1="302.80" y1="802.40" x2="302.80" y2="889.50" stroke="#fff" stroke-width="1" stroke-dasharray="3.2 1.6"/>
<line x1="396.70" y1="802.40" x2="396.70" y2="889.50" stroke="#fff" stroke-width="1" stroke-dasharray="3.2 1.6"/>
<path d="M261.30,779.80 C267.30,784.70 274.30,787.00 283.30,787.00 L330.00,787.00" fill="none" stroke="#0e58a0" stroke-width="4.3"/>
<path d="M437.30,779.40 C431.30,784.57 424.30,787.00 415.30,787.00 L370.00,787.00" fill="none" stroke="#0e58a0" stroke-width="4.3"/>
<path d="M261.80,915.50 C267.80,911.42 274.80,909.50 283.80,909.50 L334.50,909.50 M363.30,909.50 L410.50,909.50 C419.50,909.50 426.50,911.42 432.50,915.50" fill="none" stroke="#0e58a0" stroke-width="4.3"/>
<rect x="336.4" y="725.8" width="23.6" height="17" fill="url(#gShank)" stroke="#2b2b2b" stroke-width="1"/>
<path d="M317.2,742.2 L379.8,742.2 L379.8,789.3 L348.6,819.4 L317.2,789.3 Z" fill="url(#gBody)" stroke="#2b2b2b" stroke-width="1" stroke-linejoin="miter"/>
<path d="M335.8,767.8 C327,770 322.5,777 321.5,785 L348.6,819.4 C346,806 340,795 337,786.5 Z" fill="url(#gFlute)" stroke="#2b2b2b" stroke-width="0.9" stroke-linejoin="round"/>
<path d="M370,767.8 C359,772 353,779 352.2,786.5 C351,798 349.5,810 348.6,819.4 C355,806 366,795 370.8,786.5 Z" fill="url(#gFlute2)" stroke="#2b2b2b" stroke-width="0.9" stroke-linejoin="round"/>
<line x1="295" y1="780.8" x2="405" y2="780.8" stroke="#1a1a1a" stroke-width="1" stroke-dasharray="4.2 2.6"/>
<path d="M346.80,821.30 L350.80,821.30 L350.80,839.00 L355.80,835.00 L348.80,849.50 L341.80,835.00 L346.80,839.00 Z" fill="#e11f26"/>
<circle cx="259.60" cy="724.00" r="8.9" fill="#e11f26"/>
<text x="254.80" y="729.00" font-size="14" font-weight="bold" fill="#fff" stroke="#fff" stroke-width="0.2" textLength="9.6" lengthAdjust="spacingAndGlyphs">11</text>
<text x="255.00" y="839.50" font-size="12" font-weight="normal" fill="#231f20" text-anchor="start" textLength="23.80" lengthAdjust="spacingAndGlyphs" stroke="#231f20" stroke-width="0.5">Core</text>
<text x="416.80" y="837.50" font-size="12" font-weight="normal" fill="#231f20" text-anchor="start" textLength="23.30" lengthAdjust="spacingAndGlyphs" stroke="#231f20" stroke-width="0.5">Core</text>
<rect x="476.20" y="725.00" width="211.50" height="55.70" fill="#c9e3ed" />
<rect x="475.50" y="794.50" width="212.20" height="90.00" fill="#c5b594" />
<rect x="474.50" y="909.00" width="213.20" height="28.00" fill="#c9e3ed" />
<rect x="535.80" y="794.50" width="93.80" height="103.00" fill="#e6ddd0" />
<line x1="536.00" y1="794.50" x2="536.00" y2="884.50" stroke="#fff" stroke-width="1" stroke-dasharray="3.2 1.6"/>
<line x1="629.40" y1="794.50" x2="629.40" y2="884.50" stroke="#fff" stroke-width="1" stroke-dasharray="3.2 1.6"/>
<path d="M499.2,778 L499.2,764.5 Q499.2,756.5 507.2,756.5 L652,756.5 C662,756.5 669.5,750 669.5,741 L667.3,725.2 L687.5,725.2 L687.5,778 Z" fill="url(#gFit)" stroke="#6f7174" stroke-width="1"/>
<path d="M495.6,780.2 Q495.6,778.3 498,778.3 L687.5,778.3 L687.5,782 L498,782 Q495.6,782 495.6,780.2 Z" fill="#f4f8fa" stroke="#8a8c8f" stroke-width="0.8"/>
<rect x="565" y="777" width="33.8" height="15" fill="url(#gScrewL)"/>
<rect x="565" y="791.8" width="33.8" height="105.7" fill="url(#gScrew)"/>
<path d="M550,756.5 L614.3,756.5 L598.8,777.6 L565,777.6 Z" fill="url(#gHead)" stroke="#2b2b2b" stroke-width="1"/>
<path d="M475.5,897.8 L687.5,897.8 L687.5,902 L475.5,902 Z" fill="#fff" stroke="#8a8c8f" stroke-width="0.8"/>
<rect x="474.50" y="902.00" width="213.20" height="7.50" fill="#141414" />
<rect x="543.50" y="910.30" width="78.80" height="7.00" fill="url(#gWasher)" stroke="#5e6063" stroke-width="0.8"/>
<rect x="556.60" y="918.80" width="15.40" height="19.20" fill="#dcddde" />
<rect x="572.00" y="918.80" width="21.50" height="19.20" fill="url(#gNutM)" />
<rect x="593.50" y="918.80" width="15.40" height="19.20" fill="#d4d5d7" />
<path d="M556.6,938 L556.6,918.8 L608.9,918.8 L608.9,938 M572,918.8 L572,938 M593.5,918.8 L593.5,938" fill="none" stroke="#55565a" stroke-width="1"/>
<text x="487.00" y="813.30" font-size="11.5" font-weight="bold" fill="#fff" text-anchor="start" textLength="40.30" lengthAdjust="spacingAndGlyphs">Caulking</text>
<text x="487.00" y="876.50" font-size="11.5" font-weight="bold" fill="#fff" text-anchor="start" textLength="39.50" lengthAdjust="spacingAndGlyphs">Caulking</text>
<line x1="507.50" y1="802.00" x2="507.50" y2="787.00" stroke="#231f20" stroke-width="1.2"/>
<path d="M507.50,782.50 L510.70,789.50 L507.50,787.50 L504.30,789.50 Z" fill="#231f20"/>
<line x1="507.50" y1="879.50" x2="507.50" y2="893.80" stroke="#231f20" stroke-width="1.2"/>
<path d="M507.50,898.30 L504.30,891.30 L507.50,893.30 L510.70,891.30 Z" fill="#231f20"/>
<text x="480.50" y="930.00" font-size="10.5" font-weight="bold" fill="#231f20" text-anchor="start" textLength="63.30" lengthAdjust="spacingAndGlyphs">Backing plate</text>
<line x1="513.80" y1="922.00" x2="513.80" y2="914.50" stroke="#231f20" stroke-width="1.2"/>
<path d="M513.80,910.00 L517.00,917.00 L513.80,915.00 L510.60,917.00 Z" fill="#231f20"/>
<circle cx="496.30" cy="725.00" r="8.9" fill="#e11f26"/>
<text x="490.40" y="730.00" font-size="14" font-weight="bold" fill="#fff" stroke="#fff" stroke-width="0.2" textLength="11.8" lengthAdjust="spacingAndGlyphs">12</text>
<text x="488.80" y="842.70" font-size="12" font-weight="normal" fill="#231f20" text-anchor="start" textLength="23.80" lengthAdjust="spacingAndGlyphs" stroke="#231f20" stroke-width="0.5">Core</text>
<text x="649.50" y="841.00" font-size="12" font-weight="normal" fill="#231f20" text-anchor="start" textLength="23.60" lengthAdjust="spacingAndGlyphs" stroke="#231f20" stroke-width="0.5">Core</text>
</svg></body></html>
